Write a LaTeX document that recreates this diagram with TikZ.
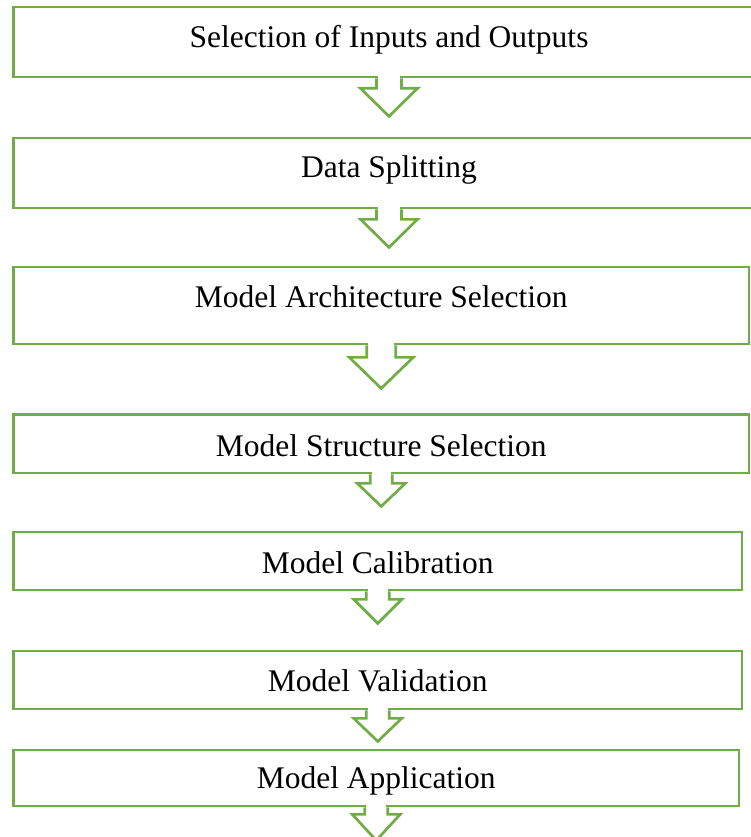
\documentclass[tikz,border=0pt]{standalone}
\usepackage{fontspec}
\setmainfont{Liberation Serif}
\usetikzlibrary{calc}
\definecolor{stepgreen}{HTML}{70AD47}
\tikzset{
  stepbox/.style={draw=stepgreen, line width=2.7pt, fill=white, rectangle, inner sep=0pt},
  steplabel/.style={anchor=base, inner sep=0pt, font=\fontsize{31.5}{36}\selectfont},
  blockarrow/.style={draw=stepgreen, line width=2.7pt, fill=white, line join=miter},
}
% block arrow hanging under a box: #1 box, #2 shaft half width, #3 head half width,
% #4 shaft length, #5 head length
\newcommand\flowarrow[5]{%
  \fill[white] ($(#1.south)+(-#2+1.5,-2)$) rectangle ($(#1.south)+(#2-1.5,2)$);
  \draw[blockarrow] ($(#1.south)+(-#2,0)$) -- ++(0,#4) -- ($(#1.south)+(-#3,#4)$)
    -- ($(#1.south)+(0,#4+#5)$) -- ($(#1.south)+(#3,#4)$) -- ($(#1.south)+(#2,#4)$)
    -- ($(#1.south)+(#2,0)$);
}
\begin{document}
\begin{tikzpicture}[x=1pt, y=-1pt]
  \useasboundingbox (0,0) rectangle (751,837);

  % process steps
  \node[stepbox, minimum width=751.5pt, minimum height=70pt] (b1) at (389,42) {};
  \node[stepbox, minimum width=751.5pt, minimum height=70pt] (b2) at (389,173) {};
  \node[stepbox, minimum width=735.5pt, minimum height=77pt] (b3) at (381.25,305.5) {};
  \node[stepbox, minimum width=735.5pt, minimum height=58.5pt] (b4) at (381.25,443.75) {};
  \node[stepbox, minimum width=728.5pt, minimum height=58pt] (b5) at (377.75,561) {};
  \node[stepbox, minimum width=728.5pt, minimum height=58pt] (b6) at (377.75,680) {};
  \node[stepbox, minimum width=725.5pt, minimum height=56pt] (b7) at (376.25,778) {};

  % step labels
  \node[steplabel] (t1) at (389,48) {Selection of Inputs and Outputs};
  \node[steplabel] (t2) at (389,178) {Data Splitting};
  \node[steplabel] (t3) at (381.25,307) {Model Architecture Selection};
  \node[steplabel] (t4) at (381.25,456) {Model Structure Selection};
  \node[steplabel] (t5) at (377.75,573) {Model Calibration};
  \node[steplabel] (t6) at (377.75,691) {Model Validation};
  \node[steplabel] (t7) at (376.25,788) {Model Application};

  % block arrows between the steps
  \flowarrow{b1}{12.5}{28.5}{10}{28}
  \flowarrow{b2}{12.5}{28.5}{10}{28}
  \flowarrow{b3}{14.5}{32}{12}{31}
  \flowarrow{b4}{11}{24}{9}{23}
  \flowarrow{b5}{11.5}{24}{8}{24}
  \flowarrow{b6}{11.5}{24}{8}{23}
  \flowarrow{b7}{11.5}{24}{7}{26}
\end{tikzpicture}
\end{document}
